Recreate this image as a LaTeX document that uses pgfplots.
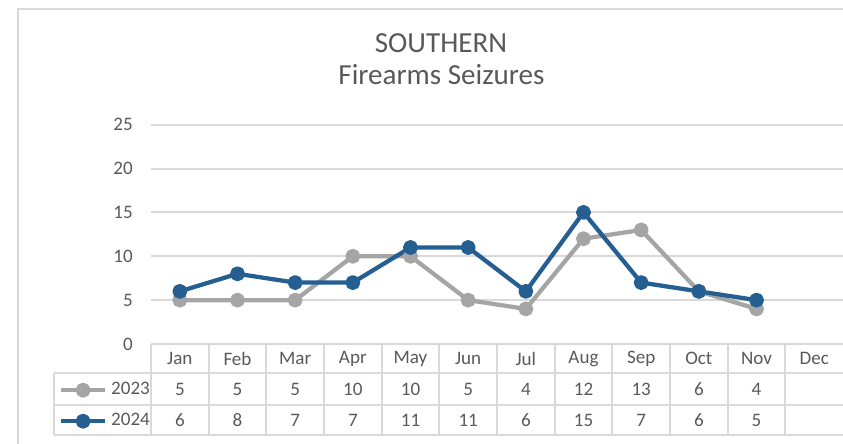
\documentclass[border=0pt]{standalone}
\usepackage{pgfplots}
\pgfplotsset{compat=1.18}
\usepackage{fontspec}
\setmainfont{Carlito}
\definecolor{txt}{HTML}{595959}
\definecolor{grd}{HTML}{D9D9D9}
\definecolor{c23}{HTML}{A5A5A5}
\definecolor{c24}{HTML}{255E91}
\newcommand{\tf}{\fontsize{14.3}{16}\selectfont}
\begin{document}
\begin{tikzpicture}[x=0.75pt,y=0.75pt]
\useasboundingbox (0,0) rectangle (843,443);
% chart frame
\draw[grd, line width=1.5pt] (18,-5) -- (18,434) -- (850,434);
% titles
\node[anchor=base, txt, inner sep=0pt, font=\fontsize{21.8}{25}\selectfont] at (441,390) {SOUTHERN};
\node[anchor=base, txt, inner sep=0pt, font=\fontsize{21.8}{25}\selectfont] at (441.5,358) {Firearms Seizures};
\begin{axis}[
  at={(113.25pt,74.25pt)}, anchor=south west,
  scale only axis, width=519pt, height=164.5pt,
  xmin=-0.5, xmax=11.5, ymin=0, ymax=25,
  axis line style={draw=none}, major tick length=0pt,
  ymajorgrids, grid style={grd, line width=1.5pt},
  ytick={0,5,10,15,20,25},
  xtick={0,1,2,3,4,5,6,7,8,9,10,11},
  xticklabels={Jan,Feb,Mar,Apr,May,Jun,Jul,Aug,Sep,Oct,Nov,Dec},
  tick label style={txt, font=\tf},
  yticklabel style={anchor=east, inner sep=0pt, xshift=-13.5pt},
  xticklabel style={anchor=center, inner sep=0pt, yshift=-10.9pt},
  /pgf/number format/assume math mode=true,
  clip=false,
  legend image code/.code={\draw[mark repeat=2, mark phase=2, #1] plot coordinates {(0pt,0pt) (16.5pt,0pt) (33pt,0pt)};},
  legend style={at={(axis description cs:-0.133,-0.14)}, anchor=north west, draw=none, fill=none,
    inner sep=0pt, outer sep=0pt, row sep=0pt, column sep=3pt, font=\tf, text=txt,
    nodes={inner sep=0pt, text height=15pt, text depth=8.25pt}},
]
\addplot[c23, line width=3.2pt, line join=round, mark=*, mark size=4pt,
  mark options={solid, fill=c23, draw=none}]
  coordinates {(0,5) (1,5) (2,5) (3,10) (4,10) (5,5) (6,4) (7,12) (8,13) (9,6) (10,4)};
\addplot[c24, line width=3.2pt, line join=round, mark=*, mark size=4pt,
  mark options={solid, fill=c24, draw=none}]
  coordinates {(0,6) (1,8) (2,7) (3,7) (4,11) (5,11) (6,6) (7,15) (8,7) (9,6) (10,5)};
\legend{2023,2024}
\end{axis}
% data table grid
\draw[grd, line width=1.5pt] (54,70) -- (850,70);
\draw[grd, line width=1.5pt] (54,38) -- (850,38);
\draw[grd, line width=1.5pt] (54,8) -- (850,8);
\draw[grd, line width=1.5pt] (54,70) -- (54,8);
\foreach \k in {0,...,11} \draw[grd, line width=1.5pt] ({151+57.667*\k},99) -- ({151+57.667*\k},8);
% data table values
\foreach \v [count=\i from 0] in {5,5,5,10,10,5,4,12,13,6,4}
  \node[txt, font=\tf, inner sep=0pt] at ({151+57.667*(\i+0.5)},54) {\v};
\foreach \v [count=\i from 0] in {6,8,7,7,11,11,6,15,7,6,5}
  \node[txt, font=\tf, inner sep=0pt] at ({151+57.667*(\i+0.5)},23) {\v};
\end{tikzpicture}
\end{document}
